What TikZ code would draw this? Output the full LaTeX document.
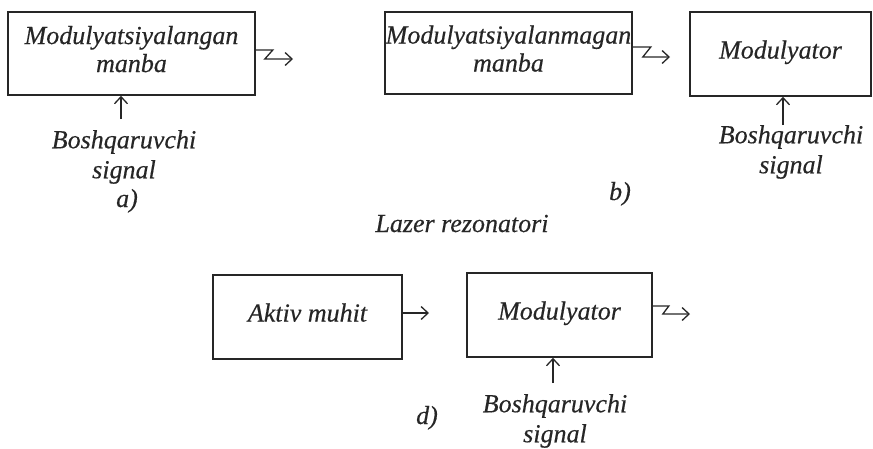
\documentclass[tikz,border=0pt]{standalone}
\usepackage{fontspec}
\setmainfont{Liberation Serif}
\newfontfamily\scanfam{Liberation Serif}[FakeBold=0.4]
\usetikzlibrary{arrows.meta,calc}
\begin{document}
\begin{tikzpicture}[x=1pt,y=-1pt,
  box/.style={draw=black!85, line width=1.6pt, inner sep=0pt, align=center,
    text depth=9pt, font=\fontsize{26}{28}\selectfont\scanfam\itshape, text=black!85},
  lbl/.style={inner sep=0pt, align=center, font=\fontsize{26}{30}\selectfont\scanfam\itshape, text=black!85},
  arr/.style={line width=1.3pt, draw=black!85, -{Straight Barb[length=7pt,width=13pt,line width=1.3pt]}},
]
\useasboundingbox (0,0) rectangle (873,448);

% ---- a)
\node[box, minimum width=247pt, minimum height=83pt] (a) at (131.5,53.5) {Modulyatsiyalangan\\manba};
\coordinate (oa) at (293,59);
\draw[arr] ([yshift=3.5pt]a.east) -- ++(17,0) -- ++(-8,9) -- (oa);
\node[lbl] (sa) at (124,157) {Boshqaruvchi\\signal};
\coordinate (ta) at (121,119);
\draw[arr] (ta) -- (ta |- a.south);
\node[lbl, anchor=base] (la) at (127,207) {a)};

% ---- b)
\node[box, minimum width=247pt, minimum height=82pt] (b1) at (508.5,53) {Modulyatsiyalanmagan\\manba};
\coordinate (ob) at (670,57);
\draw[arr] ([yshift=6pt]b1.east) -- ++(18,0) -- ++(-8,10) -- (ob);
\node[box, minimum width=181pt, minimum height=84pt] (b2) at (780.5,54) {Modulyator};
\node[lbl] (sb) at (791,152) {Boshqaruvchi\\signal};
\coordinate (tb) at (783,125);
\draw[arr] (tb) -- (tb |- b2.south);
\node[lbl, anchor=base] (lb) at (620,200) {b)};

% ---- title
\node[lbl, anchor=base] (lz) at (462,232) {Lazer rezonatori};

% ---- d)
\node[box, minimum width=189pt, minimum height=84pt] (d1) at (307.5,317) {Aktiv muhit};
\node[box, minimum width=185pt, minimum height=84pt] (d2) at (559.5,315) {Modulyator};
\coordinate (dm) at (429,313);
\draw[arr] (d1.east |- dm) -- (dm);
\coordinate (od) at (690,314);
\draw[arr] ([yshift=9pt]d2.east) -- ++(16,0) -- ++(-6,8) -- (od);
\node[lbl] (sd) at (555,421) {Boshqaruvchi\\signal};
\coordinate (td) at (553,383);
\draw[arr] (td) -- (td |- d2.south);
\node[lbl, anchor=base] (ld) at (427,424) {d)};
\end{tikzpicture}
\end{document}
